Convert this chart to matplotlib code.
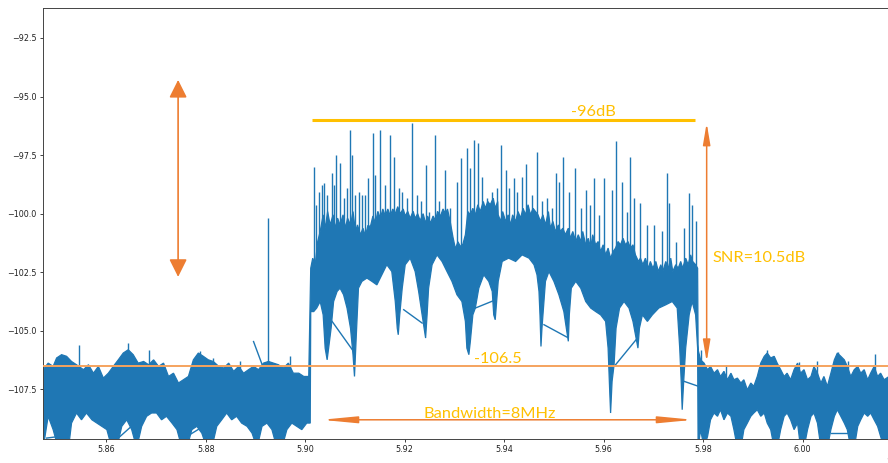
import numpy as np
import matplotlib
matplotlib.use("Agg")
import matplotlib.pyplot as plt
from matplotlib.ticker import MultipleLocator

# ---------------- data (frequency in MHz, level in dB) ----------------
left_upper_f = [5846.0, 5847.3, 5848.3, 5849.3, 5850.0, 5851.0, 5852.0, 5853.0, 5854.0, 5855.4, 5856.4,
                5857.4, 5858.4, 5859.4, 5860.4, 5861.4, 5862.4, 5863.4, 5864.4, 5865.4, 5866.4,
                5867.5, 5868.5, 5869.5, 5870.5, 5871.5, 5872.5, 5873.5, 5874.5, 5875.5, 5876.5,
                5877.5, 5878.5, 5879.5, 5880.5, 5881.5, 5882.6, 5883.6, 5884.6, 5885.6, 5886.6,
                5887.6, 5888.6, 5889.6, 5890.6, 5891.6, 5892.6, 5893.6, 5894.6, 5895.6, 5896.6,
                5897.6, 5898.7, 5899.7, 5900.7]
left_upper_db = [-106.6, -106.66, -106.38, -106.52, -106.16, -106.02, -106.09, -106.31, -106.45, -106.66, -106.45,
                 -106.81, -106.52, -107.02, -106.81, -106.52, -106.24, -105.95, -105.81, -106.02, -106.38,
                 -106.31, -106.45, -106.24, -106.52, -106.38, -106.95, -106.81, -107.23, -107.09, -106.95,
                 -106.24, -105.95, -106.09, -106.24, -106.31, -106.52, -106.59, -106.38, -106.73, -106.52,
                 -106.81, -106.66, -106.52, -106.66, -106.38, -106.31, -106.38, -106.45, -106.59, -106.38,
                 -106.81, -106.81, -106.95, -106.95]
left_lower_f = [5846.0, 5847.3, 5848.3, 5849.3, 5850.3, 5851.3, 5852.4, 5853.0, 5854.0, 5855.0, 5856.0,
                5857.1, 5858.1, 5859.1, 5860.1, 5861.1, 5862.1, 5863.1, 5864.1, 5865.1, 5866.1,
                5867.1, 5868.1, 5869.1, 5870.1, 5871.1, 5872.1, 5873.2, 5874.2, 5875.2, 5876.2,
                5877.2, 5878.2, 5879.2, 5880.2, 5881.2, 5882.2, 5883.2, 5884.2, 5885.2, 5886.2,
                5887.2, 5888.3, 5889.3, 5890.3, 5891.3, 5892.3, 5893.3, 5894.3, 5895.3, 5896.3,
                5897.3, 5898.3, 5899.3, 5900.3, 5901.0]
left_lower_db = [-109.2, -110.0, -108.65, -109.22, -110.0, -110.0, -110.0, -108.94, -108.51, -108.80, -108.51,
                 -108.80, -108.94, -109.08, -109.22, -110.0, -110.0, -109.08, -108.80, -109.22, -110.0,
                 -109.08, -108.65, -108.51, -108.51, -108.80, -108.65, -108.94, -109.22, -110.0, -110.0,
                 -109.22, -109.08, -109.37, -110.0, -110.0, -109.08, -108.80, -108.51, -108.80, -108.65,
                 -108.94, -109.08, -109.37, -110.0, -109.08, -108.94, -109.22, -110.0, -110.0, -109.22,
                 -108.94, -109.08, -109.22, -108.94, -108.94]

band_upper_f = [5901.1, 5901.5, 5902.0, 5902.5, 5903.0, 5903.6, 5904.0, 5904.5, 5905.0, 5905.6,
                5906.0, 5906.5, 5907.0, 5907.6, 5908.1, 5908.5, 5909.1, 5909.6, 5910.1, 5910.5,
                5911.1, 5911.6, 5912.1, 5912.6, 5913.1, 5913.6, 5914.1, 5914.6, 5915.1, 5915.6,
                5916.1, 5916.6, 5917.1, 5917.6, 5918.1, 5918.6, 5919.1, 5919.7, 5920.1, 5920.6,
                5921.1, 5921.7, 5922.1, 5922.6, 5923.1, 5923.7, 5924.2, 5924.6, 5925.2, 5925.7,
                5926.2, 5926.6, 5927.2, 5927.7, 5928.2, 5928.6, 5929.2, 5929.7, 5930.2, 5930.7,
                5931.2, 5931.7, 5932.2, 5932.7, 5933.2, 5933.7, 5934.2, 5934.7, 5935.2, 5935.8,
                5936.2, 5936.7, 5937.2, 5937.8, 5938.2, 5938.7,
                5938.8, 5939.3, 5939.7, 5940.3, 5940.8, 5941.3, 5941.7, 5942.3, 5942.8, 5943.3,
                5943.8, 5944.3, 5944.8, 5945.3, 5945.8, 5946.3, 5946.8, 5947.3, 5947.8, 5948.3,
                5948.9, 5949.3, 5949.8, 5950.3, 5950.9, 5951.3, 5951.8, 5952.3, 5952.9, 5953.3,
                5953.8, 5954.4, 5954.9, 5955.4, 5955.8, 5956.4, 5956.9, 5957.4, 5957.8, 5958.4,
                5958.9, 5959.4, 5959.9, 5960.4, 5960.9, 5961.4, 5961.9, 5962.4, 5962.9, 5963.4,
                5963.9, 5964.4, 5964.9, 5965.4, 5965.9, 5966.4, 5967.0, 5967.4, 5967.9, 5968.4,
                5969.0, 5969.4, 5969.9, 5970.5, 5971.0, 5971.5, 5971.9, 5972.5, 5973.0, 5973.5,
                5973.9, 5974.5, 5975.0, 5975.5, 5975.9, 5976.5, 5977.0, 5977.5, 5977.9, 5978.5,
                5978.9]
band_upper_db = [-102.33, -101.90, -102.18, -101.19, -100.76, -100.05, -100.62, -99.91, -100.48, -100.05,
                 -100.62, -100.19, -100.48, -100.05, -100.62, -100.19, -100.48, -99.91, -100.76, -100.48,
                 -100.90, -100.62, -100.95, -100.50, -100.55, -100.10, -100.40, -99.90, -100.20, -99.80,
                 -100.10, -99.80, -100.10, -99.80, -100.00, -99.70, -100.00, -99.80, -100.10, -99.90,
                 -100.20, -99.90, -100.20, -100.00, -100.30, -100.00, -100.40, -100.10, -100.40, -100.10,
                 -100.30, -99.90, -100.10, -99.80, -100.00, -99.80, -100.40, -101.00, -101.50, -101.20,
                 -101.40, -101.30, -100.90, -99.91, -100.05, -99.77, -100.05, -99.62, -99.91, -99.48,
                 -99.77, -99.48, -99.62, -99.34, -99.77, -99.48,
                 -100.05, -100.33, -99.91, -100.33, -100.05, -100.48, -100.05, -100.33, -99.91, -100.19,
                 -99.77, -100.05, -99.62, -100.05, -99.77, -99.91, -100.05, -100.33, -100.05, -100.48,
                 -99.91, -100.62, -100.33, -100.76, -100.48, -100.76, -100.62, -100.90, -100.62, -101.05,
                 -100.76, -101.19, -100.90, -101.19, -100.76, -101.33, -101.05, -101.47, -100.90, -101.33,
                 -101.19, -101.62, -101.33, -101.76, -101.47, -101.90, -101.62, -101.47, -101.19, -101.33,
                 -101.05, -101.33, -101.19, -101.47, -101.33, -101.76, -102.04, -101.90, -102.18, -101.90,
                 -102.33, -102.04, -102.33, -102.04, -102.47, -102.18, -102.47, -102.04, -102.33, -101.90,
                 -102.47, -102.18, -102.33, -102.04, -102.33, -101.90, -102.18, -101.76, -102.04, -102.18,
                 -102.33]
band_lower_f = [5901.1, 5901.7, 5902.3, 5903.0, 5903.6, 5904.0, 5904.4, 5904.7, 5905.2, 5905.7,
                5906.4, 5907.0, 5907.7, 5908.4, 5909.1, 5909.6, 5909.9, 5910.3, 5910.7, 5911.4,
                5912.4, 5913.4, 5914.4, 5915.4, 5916.4, 5917.4, 5918.1, 5918.5, 5918.7, 5919.0,
                5919.5, 5920.1, 5921.1, 5922.1, 5922.8, 5923.5, 5924.0, 5924.2, 5924.5, 5924.8,
                5925.5, 5926.5, 5927.5, 5928.5, 5929.5, 5930.5, 5931.5, 5932.2, 5932.5, 5932.9,
                5933.2, 5933.7, 5934.2, 5934.9, 5935.9, 5936.9, 5937.6, 5937.9, 5938.2, 5938.8,
                5939.6, 5940.9, 5942.3, 5943.6, 5945.0, 5946.0, 5946.6, 5947.0, 5947.2, 5947.4,
                5947.6, 5948.0, 5948.3, 5949.0, 5950.0, 5951.0, 5952.0, 5952.5, 5952.9, 5953.1,
                5953.5, 5954.4, 5955.4, 5956.4, 5957.4, 5958.4, 5959.4, 5960.4, 5960.9, 5961.2,
                5961.4, 5961.7, 5962.1, 5962.5, 5963.2, 5964.1, 5965.1, 5965.9, 5966.4, 5966.9,
                5967.2, 5967.8, 5968.8, 5969.8, 5971.1, 5972.5, 5973.8, 5974.8, 5975.3, 5975.6,
                5975.8, 5976.1, 5976.5, 5977.2, 5977.8, 5978.5, 5978.9]
band_lower_db = [-104.18, -104.18, -104.03, -103.75, -104.32, -105.74, -106.24, -105.74, -104.89, -103.75,
                 -103.32, -103.18, -103.46, -104.03, -104.89, -106.02, -106.95, -105.03, -103.18, -102.89,
                 -102.75, -102.89, -103.04, -102.61, -102.18, -102.47, -103.75, -104.89, -105.17, -104.32,
                 -103.18, -102.18, -101.90, -102.47, -103.32, -104.32, -105.03, -105.31, -104.32, -103.18,
                 -102.18, -101.76, -102.04, -102.47, -102.89, -103.46, -103.75, -104.60, -105.74, -106.02,
                 -105.45, -104.32, -104.03, -103.18, -102.61, -102.89, -103.32, -104.32, -104.53, -102.89,
                 -102.04, -101.90, -102.04, -101.76, -101.90, -102.18, -102.61, -103.32, -104.32, -105.67,
                 -104.89, -103.75, -102.89, -102.47, -102.89, -103.46, -104.18, -104.89, -105.45, -104.32,
                 -103.18, -102.89, -103.18, -103.75, -104.03, -104.18, -104.32, -104.60, -105.74, -107.45,
                 -108.51, -107.16, -106.45, -104.89, -104.03, -103.75, -104.03, -104.60, -105.17, -105.74,
                 -104.89, -104.32, -104.60, -104.32, -104.03, -103.89, -103.75, -104.03, -105.74, -107.16,
                 -108.37, -107.16, -105.74, -104.32, -103.75, -104.32, -105.74]

right_f = [5979.0, 5979.5, 5980.2, 5980.9, 5981.5, 5982.2, 5982.9, 5983.5, 5984.2, 5984.9,
           5985.6, 5986.2, 5986.9, 5987.6, 5988.2, 5988.9, 5989.6, 5990.2, 5990.9, 5991.6,
           5992.3, 5992.9, 5993.6, 5994.3, 5994.9, 5995.6, 5996.3, 5996.9, 5997.6, 5998.3,
           5999.0, 5999.6, 6000.3, 6001.0, 6001.7, 6002.3, 6003.0, 6003.7, 6004.3, 6005.0,
           6005.7, 6006.4, 6007.0, 6007.7, 6008.4, 6009.0, 6009.7, 6010.4, 6011.1, 6011.7,
           6012.4, 6013.1, 6013.7, 6014.4, 6015.1, 6015.7, 6016.4, 6017.4, 6021.0]
right_upper_db = [-105.81, -106.24, -106.38, -106.66, -106.52, -106.81, -106.66, -106.95, -106.73, -107.09,
                  -106.81, -107.09, -107.02, -107.23, -107.09, -107.52, -107.23, -107.37, -106.95, -106.38,
                  -106.09, -105.95, -106.16, -106.09, -106.38, -106.66, -106.95, -106.81, -107.09, -106.66,
                  -106.38, -106.81, -106.66, -107.09, -106.95, -106.52, -106.81, -107.23, -106.95, -107.37,
                  -106.81, -106.24, -105.95, -106.09, -106.24, -106.52, -106.95, -106.66, -106.52, -106.81,
                  -106.66, -107.09, -106.81, -106.52, -106.95, -106.81, -107.09, -106.95, -106.80]
right_lower_db = [-110.0, -109.22, -110.0, -109.51, -108.80, -108.51, -108.65, -108.37, -108.80, -108.51,
                  -108.65, -109.22, -110.0, -110.0, -109.22, -108.94, -108.65, -108.51, -108.37, -108.65,
                  -108.51, -108.94, -109.22, -110.0, -110.0, -109.22, -108.65, -108.51, -108.80, -109.22,
                  -108.94, -110.0, -110.0, -109.22, -108.65, -108.51, -108.94, -110.0, -110.0, -110.0,
                  -109.22, -108.65, -108.37, -108.65, -108.94, -109.22, -110.0, -110.0, -109.08, -108.80,
                  -108.51, -108.65, -108.51, -108.80, -109.08, -109.51, -110.0, -110.0, -109.00]

# isolated spikes: frequency, top level, level where the spike leaves the band
spike_f = [5854.4, 5864.4, 5868.6, 5878.9, 5881.5, 5886.9, 5892.6, 5897.0,
           5901.8, 5902.2, 5902.7, 5903.4, 5903.8, 5904.4, 5905.4, 5905.8, 5906.2, 5906.9,
           5907.7, 5908.3, 5908.9, 5909.4, 5910.1, 5910.9, 5911.4, 5912.1, 5912.7, 5913.6,
           5914.1, 5915.1, 5916.1, 5917.0, 5917.8, 5918.8, 5919.5, 5920.5, 5921.5, 5922.5,
           5923.3, 5924.2, 5924.8, 5926.0, 5926.8, 5928.0, 5929.2, 5930.5, 5931.3, 5932.5,
           5933.1, 5933.9, 5934.7, 5935.6, 5936.6, 5937.6, 5938.6,
           5939.3, 5940.3, 5940.9, 5941.9, 5942.6, 5943.5, 5944.4, 5945.5, 5946.6, 5947.6,
           5948.7, 5949.7, 5950.5, 5951.0, 5951.8, 5953.0, 5954.2, 5955.4, 5956.4, 5957.2,
           5958.0, 5959.1, 5960.1, 5961.6, 5962.5, 5963.6, 5964.6, 5965.4, 5966.1, 5967.4,
           5968.8, 5970.1, 5971.8, 5972.8, 5973.1, 5974.5, 5976.2, 5977.2, 5977.8, 5978.5,
           5979.5, 5984.7, 5992.8, 5999.3, 6002.9, 6007.2, 6009.2, 6014.5]
spike_top = [-105.60, -105.53, -105.81, -105.88, -106.16, -106.31, -100.19, -106.09,
             -97.99, -99.62, -99.06, -98.77, -98.70, -99.20, -98.27, -98.77, -97.49, -97.85,
             -99.34, -98.91, -96.43, -97.49, -99.20, -99.06, -99.20, -99.20, -98.49, -96.57,
             -98.34, -96.43, -98.77, -96.64, -97.56, -98.91, -99.06, -99.34, -96.14, -99.20,
             -99.48, -97.92, -99.91, -96.64, -99.48, -98.13, -99.77, -98.63, -97.63, -97.21,
             -98.06, -96.85, -96.99, -98.42, -99.34, -99.06, -98.91,
             -97.06, -98.13, -98.91, -98.49, -99.06, -98.42, -97.89, -99.20, -97.35, -99.48,
             -99.34, -99.77, -98.27, -98.63, -97.56, -99.06, -98.06, -99.77, -98.98, -99.62,
             -98.49, -100.05, -98.49, -98.98, -96.89, -98.63, -99.91, -97.56, -99.34, -99.55,
             -100.48, -100.48, -100.76, -98.27, -99.55, -101.19, -100.62, -99.13, -99.62, -100.33,
             -105.81, -106.45, -105.84, -106.35, -106.31, -105.90, -106.31, -105.98]
spike_base = [-107.0] * 8 + [-102.9] * 3 + [-101.5] * 44 + [-101.2] * 9 + [-102.2] * 14 \
             + [-102.9] * 17 + [-107.0] * 8

# short straight artefact segments of the trace
seg_f0 = [5905.4, 5919.8, 5934.2, 5948.0, 5962.4, 5976.2, 5889.6, 5862.4, 5876.2, 5848.0, 6005.7]
seg_db0 = [-104.60, -104.10, -104.03, -104.74, -106.45, -107.16, -105.46, -109.58, -109.51, -109.58, -109.36]
seg_f1 = [5909.7, 5923.5, 5937.8, 5952.7, 5966.8, 5979.2, 5891.6, 5865.4, 5879.5, 5851.7, 6008.9]
seg_db1 = [-105.88, -104.67, -103.72, -105.28, -105.31, -107.38, -106.60, -109.01, -109.08, -109.48, -109.36]

# annotation values
peak_level = -96.0
floor_level = -106.5
band_start, band_stop = 5901.3, 5978.3

# ---------------- drawing ----------------
BLUE = "#1f77b4"
ORANGE = "#ED7D31"
LIGHT_ORANGE = "#F5A35E"
GOLD = "#FFC000"
MHZ = 1e6

fig = plt.figure(figsize=(8.88, 4.63), dpi=100)
ax = fig.add_axes([43 / 888, 1 - 439 / 463, (901 - 43) / 888, (439 - 8) / 463])

upper_f = np.array(left_upper_f + band_upper_f + right_f) * MHZ
upper_db = np.array(left_upper_db + band_upper_db + right_upper_db)
lower_f = np.array(left_lower_f + band_lower_f + right_f) * MHZ
lower_db = np.array(left_lower_db + band_lower_db + right_lower_db)

ax.fill(np.concatenate([upper_f, lower_f[::-1]]),
        np.concatenate([upper_db, lower_db[::-1]]),
        facecolor=BLUE, edgecolor=BLUE, lw=0.9, zorder=2)
ax.vlines(np.array(spike_f) * MHZ, spike_base, spike_top, color=BLUE, lw=1.0, zorder=2)
for f0, d0, f1, d1 in zip(seg_f0, seg_db0, seg_f1, seg_db1):
    ax.plot([f0 * MHZ, f1 * MHZ], [d0, d1], color=BLUE, lw=1.0, zorder=2)

ax.set_xlim(5847.26 * MHZ, 6019.8 * MHZ)
ax.set_ylim(-109.62, -91.22)
ax.xaxis.set_major_locator(MultipleLocator(0.02e9))
ax.yaxis.set_major_locator(MultipleLocator(2.5))
ax.tick_params(labelsize=5.8, length=2.5, width=0.6, pad=2, colors="#222222")
ax.xaxis.get_offset_text().set_fontsize(5.8)
for s in ax.spines.values():
    s.set_linewidth(0.7)
    s.set_color("#444444")

# reference lines
ax.plot([band_start * MHZ, band_stop * MHZ], [peak_level, peak_level], color=GOLD, lw=2.2,
        solid_capstyle="butt", zorder=4)
ax.axhline(floor_level, color=LIGHT_ORANGE, lw=1.4, zorder=4)


def darrow(p0, p1, hl, hw, lw):
    ax.annotate("", xy=p1, xytext=p0,
                arrowprops=dict(arrowstyle=f"<|-|>,head_length={hl},head_width={hw}",
                                color=ORANGE, lw=lw, shrinkA=0, shrinkB=0,
                                mutation_scale=10), zorder=5)


darrow((5874.43 * MHZ, -102.70), (5874.43 * MHZ, -94.29), 1.08, 0.54, 1.2)
darrow((5980.72 * MHZ, -106.32), (5980.72 * MHZ, -96.13), 1.3, 0.22, 1.1)
darrow((5903.23 * MHZ, -108.80), (5978.11 * MHZ, -108.80), 2.1, 0.2, 1.1)

tkw = dict(color=GOLD, fontsize=11.8, family=["Lato", "DejaVu Sans"], ha="center",
           va="baseline", zorder=6)
ax.text(5957.97 * MHZ, -95.83, "-96dB", **tkw)
ax.text(5938.75 * MHZ, -106.36, "-106.5", **tkw)
ax.text(5937.04 * MHZ, -108.71, "Bandwidth=8MHz", **tkw)
ax.text(5991.29 * MHZ, -102.06, "SNR=10.5dB", **tkw)

fig.savefig("out.png", dpi=100, facecolor="white")
